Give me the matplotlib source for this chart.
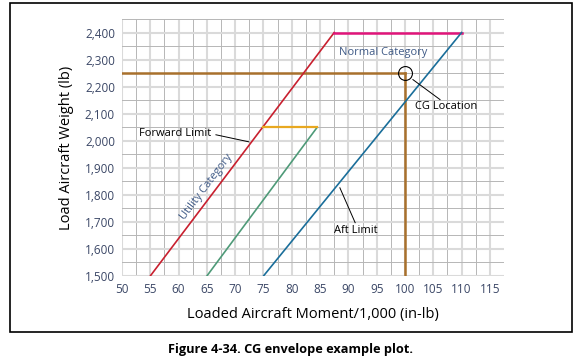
import numpy as np
import matplotlib
matplotlib.use('Agg')
import matplotlib.pyplot as plt
from matplotlib.patches import Rectangle

plt.rcParams['font.family'] = ['Open Sans', 'DejaVu Sans']

# Envelope data (moment/1000, weight)
fwd_x = [55, 87.5]
fwd_y = [1500, 2400]
top_x = [87.5, 110]
top_y = [2400, 2400]
aft_x = [75, 110]
aft_y = [1500, 2400]
util_x = [65, 84.5]
util_y = [1500, 2050]
util_top_x = [75, 84.5]
util_top_y = [2050, 2050]
cg_moment = 100
cg_weight = 2250

x_ticks = np.arange(50, 116, 5)
y_ticks = np.arange(1500, 2401, 100)

tick_col = '#3b4766'
text_col = '#3f5a86'

fig = plt.figure(figsize=(5.8, 3.62), dpi=100)
ax = fig.add_axes([0.2103, 0.2376, 0.6587, 0.7099])

ax.set_xlim(50, 117.5)
ax.set_ylim(1500, 2450)
ax.set_xticks(x_ticks)
ax.set_yticks(y_ticks)
ax.set_xticks(np.arange(52.5, 118, 5), minor=True)
ax.set_yticks(np.arange(1550, 2451, 100), minor=True)
ax.set_yticklabels(['{:,}'.format(v) for v in y_ticks])
ax.grid(which='major', color='#dadada', lw=1.5, zorder=0)
ax.grid(which='minor', color='#b6b6b6', lw=0.7, zorder=0)
ax.tick_params(which='both', length=0, labelsize=8.5, colors=tick_col, pad=5)
for s in ax.spines.values():
    s.set_visible(False)
ax.set_axisbelow(True)

# CG location lines
ax.plot([50, cg_moment], [cg_weight, cg_weight], color='#a8702c', lw=1.8, zorder=3)
ax.plot([cg_moment, cg_moment], [1500, cg_weight], color='#a8702c', lw=1.8, zorder=3)

ax.plot(fwd_x, fwd_y, color='#c8202f', lw=1.2, zorder=4)
ax.plot(top_x, top_y, color='#e0147a', lw=1.8, zorder=4)
ax.plot(aft_x, aft_y, color='#1a6e9a', lw=1.2, zorder=4)
ax.plot(util_x, util_y, color='#4e9a78', lw=1.2, zorder=4)
ax.plot(util_top_x, util_top_y, color='#e8a820', lw=1.6, zorder=4)

ax.plot([cg_moment], [cg_weight], marker='o', ms=10, mfc='none', mec='black', mew=0.8, zorder=5)

ax.text(88.3, 2326, 'Normal Category', fontsize=8, color=text_col, va='center', ha='left')
ax.text(64.9, 1830, 'Utility Category', fontsize=8, color=text_col, va='center', ha='center',
        rotation=53, rotation_mode='anchor')

ax.text(101.8, 2126, 'CG Location', fontsize=8, color='black', va='center', ha='left')
ax.plot([101.4, 106.2], [2226, 2152], color='black', lw=0.7, zorder=5)
ax.text(53, 2026, 'Forward Limit', fontsize=8, color='black', va='center', ha='left')
ax.plot([66.6, 72.4], [2022, 1996], color='black', lw=0.7, zorder=5)
ax.text(87.5, 1670, 'Aft Limit', fontsize=8, color='black', va='center', ha='left')
ax.plot([88.5, 91.2], [1826, 1697], color='black', lw=0.7, zorder=5)

ax.set_xlabel('Loaded Aircraft Moment/1,000 (in-lb)', fontsize=10.5, labelpad=8)
ax.set_ylabel('Load Aircraft Weight (lb)', fontsize=10.5, labelpad=8)

fig.patches.append(Rectangle((10 / 580, 1 - 332 / 362), 562 / 580, 329 / 362,
                             transform=fig.transFigure, fill=False, ec='black', lw=1.2))
fig.text(0.5, 1 - 350 / 362, 'Figure 4-34. CG envelope example plot.', fontsize=9.2,
         fontweight='bold', ha='center', va='center')

fig.savefig('out.png', dpi=100)
